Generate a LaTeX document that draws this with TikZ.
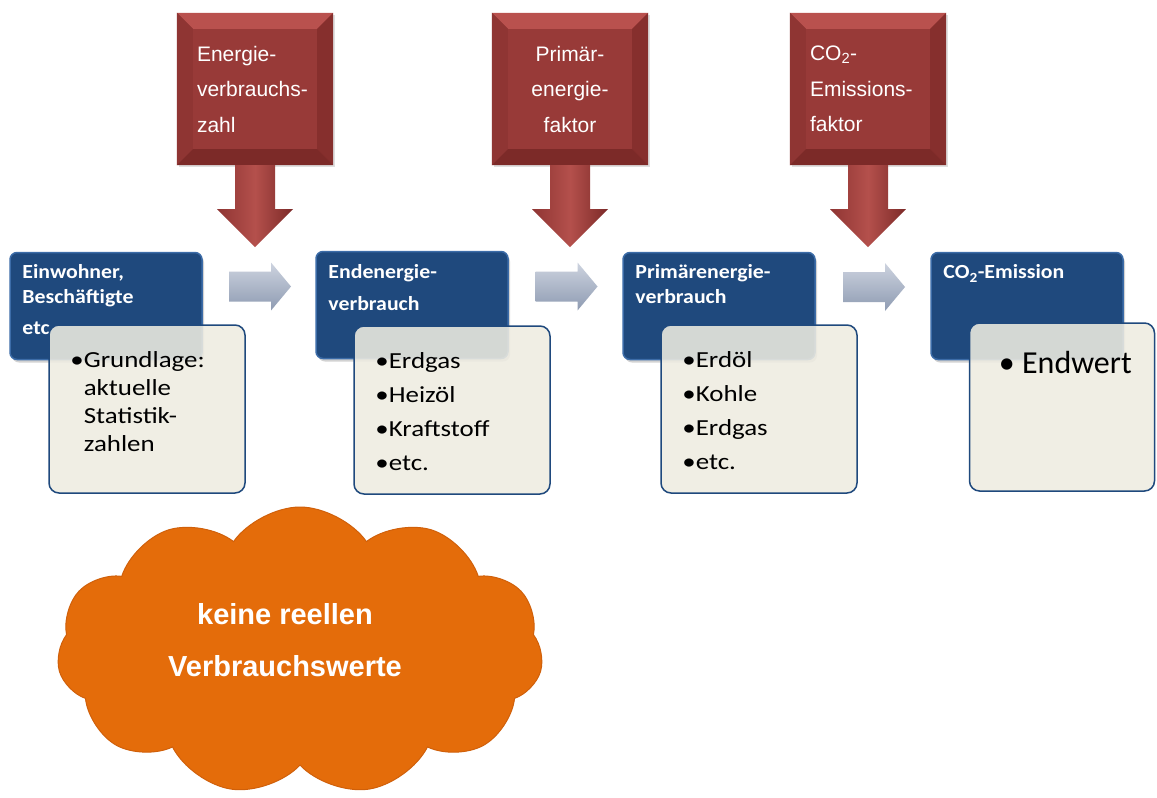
\documentclass[tikz,border=0pt]{standalone}
\usepackage{fontspec}
\setmainfont{Carlito}
\newfontfamily\arialfont{Liberation Sans}
\newfontfamily\titlefont{Carlito}[FakeStretch=1.09]
\newfontfamily\listfont{Carlito}[FakeStretch=1.17]
\usetikzlibrary{shapes.symbols}
\usetikzlibrary{shadows}
\usetikzlibrary{positioning}

\definecolor{boxblue}{HTML}{1F497D}
\definecolor{blueedge}{HTML}{3C6CA8}
\definecolor{paper}{HTML}{EEECE1}
\definecolor{factred}{HTML}{983A38}
\definecolor{redtop}{HTML}{B9514E}
\definecolor{redleft}{HTML}{8F3533}
\definecolor{redright}{HTML}{862F2D}
\definecolor{redbottom}{HTML}{7C2A28}
\definecolor{redlight}{HTML}{B4504C}
\definecolor{arrowtop}{HTML}{CDD3DF}
\definecolor{arrowbot}{HTML}{8E9BB2}
\definecolor{cloudorange}{HTML}{E46C0A}
\definecolor{cloudedge}{HTML}{D0600A}

\tikzset{
  factor/.style={rectangle, fill=factred, minimum width=156pt, minimum height=152pt,
    text width=116pt, align=left, text=white, font=\arialfont\fontsize{21}{35.5}\selectfont,
    drop shadow={opacity=.25, shadow xshift=2pt, shadow yshift=-2pt}},
  stage/.style={rectangle, rounded corners=7pt, fill=boxblue, draw=blueedge, line width=1.5pt,
    minimum width=192pt, minimum height=107pt,
    drop shadow={opacity=.35, shadow xshift=2pt, shadow yshift=-3pt}},
  stagetitle/.style={inner sep=0pt, align=left, text=white, font=\titlefont\bfseries\fontsize{20}{25}\selectfont},
  detail/.style={rectangle, rounded corners=10pt, fill=paper, fill opacity=.88, draw=boxblue,
    line width=1.5pt, minimum width=196pt, minimum height=168pt},
  detailtext/.style={inner sep=0pt, align=left, text=black, font=\listfont\fontsize{23}{34}\selectfont},
  cloudtext/.style={align=center, text=white, font=\arialfont\bfseries\fontsize{29}{52}\selectfont}
}

\begin{document}
\begin{tikzpicture}[x=1pt, y=-1pt]
  \useasboundingbox[fill=white] (0,0) rectangle (1157,798);

  % factors on top
  \node[factor] (r1) at (255,89) {Energie-\\verbrauchs-\\zahl};
  \node[factor, align=center] (r2) at (570,89) {Primär-\\energie-\\faktor};
  \node[factor] (r3) at (868,89) {CO\textsubscript{2}-\\Emissions-\\faktor};

  \foreach \r in {r1,r2,r3} {
    \fill[redtop] (\r.north west) -- (\r.north east) -- ([shift={(-16,16)}]\r.north east) -- ([shift={(16,16)}]\r.north west) -- cycle;
    \fill[redleft] (\r.north west) -- ([shift={(16,16)}]\r.north west) -- ([shift={(16,-16)}]\r.south west) -- (\r.south west) -- cycle;
    \fill[redright] (\r.north east) -- ([shift={(-16,16)}]\r.north east) -- ([shift={(-16,-16)}]\r.south east) -- (\r.south east) -- cycle;
    \fill[redbottom] (\r.south west) -- ([shift={(16,-16)}]\r.south west) -- ([shift={(-16,-16)}]\r.south east) -- (\r.south east) -- cycle;
    \shade[left color=redleft, right color=redbottom, middle color=redlight]
      ([xshift=-20pt]\r.south) -- ++(0,44) -- ++(-18,0) -- ++(38,38) -- ++(38,-38) -- ++(-18,0) -- ++(0,-44) -- cycle;
  }

  % stages
  \node[stage] (b1) at (106,306) {};
  \node[stage] (b2) at (412,305) {};
  \node[stage] (b3) at (719,306) {};
  \node[stage] (b4) at (1027,306) {};

  \node[stagetitle, below right=13pt and 13pt of b1.north west] (h1) {Einwohner,\\Beschäftigte\\[6pt]etc};
  \node[stagetitle, font=\titlefont\bfseries\fontsize{20}{32}\selectfont, below right=14pt and 13pt of b2.north west] (h2) {Endenergie-\\verbrauch};
  \node[stagetitle, below right=13pt and 13pt of b3.north west] (h3) {Primärenergie-\\verbrauch};
  \node[stagetitle, below right=13pt and 13pt of b4.north west] (h4) {CO\textsubscript{2}-Emission};

  % arrows between the stages
  \foreach \a/\b/\m in {b1/b2/m1, b2/b3/m2, b3/b4/m3} {
    \path ([yshift=19pt]\a.east) -- ([yshift=19pt]\b.west) coordinate[midway] (\m);
    \shade[top color=arrowtop, bottom color=arrowbot]
      ([shift={(-30,-15)}]\m) -- ++(42,0) -- ++(0,-9) -- ++(20,24) -- ++(-20,24) -- ++(0,-9) -- ++(-42,0) -- cycle;
  }

  % details
  \node[detail] (d1) at (147,409) {};
  \node[detail] (d2) at (452,410) {};
  \node[detail] (d3) at (759,409) {};
  \node[detail, minimum width=185pt] (d4) at (1062,407) {};

  \node[detailtext, font=\listfont\fontsize{23}{28}\selectfont, below right=27pt and 22pt of d1.north west] (t1)
    {\textbullet Grundlage:\\\phantom{\textbullet}aktuelle\\\phantom{\textbullet}Statistik-\\\phantom{\textbullet}zahlen};
  \node[detailtext, below right=27pt and 22pt of d2.north west] (t2)
    {\textbullet Erdgas\\\textbullet Heizöl\\\textbullet Kraftstoff\\\textbullet etc.};
  \node[detailtext, below right=27pt and 22pt of d3.north west] (t3)
    {\textbullet Erdöl\\\textbullet Kohle\\\textbullet Erdgas\\\textbullet etc.};
  \node[detailtext, font=\fontsize{32}{36}\selectfont, below right=29pt and 30pt of d4.north west] (t4)
    {\textbullet\ Endwert};

  % cloud
  \node[cloud, cloud puffs=11, cloud puff arc=110, cloud ignores aspect, minimum width=486pt,
    minimum height=288pt, fill=cloudorange, draw=cloudedge, line width=1pt] (c) at (300,651) {};
  \node[cloudtext] (ct) at (285,640) {keine reellen\\Verbrauchswerte};
\end{tikzpicture}
\end{document}
